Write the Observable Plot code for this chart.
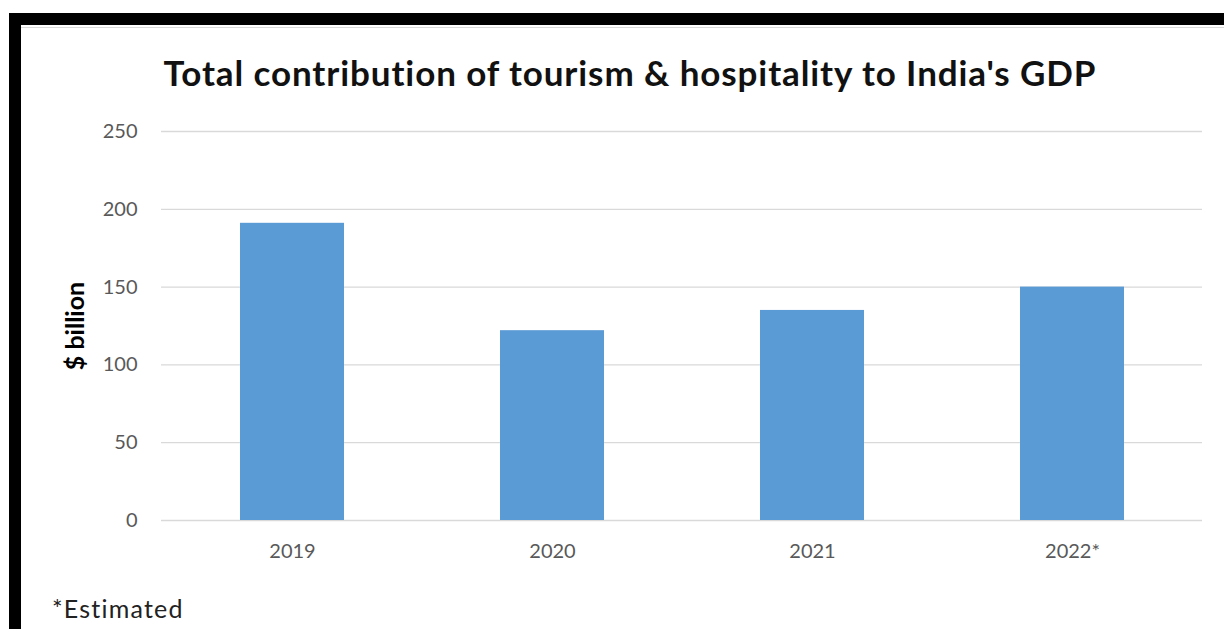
<!DOCTYPE html>
<html>
<head>
<meta charset="utf-8">
<script src="https://cdn.jsdelivr.net/npm/d3@7"></script>
<script src="https://cdn.jsdelivr.net/npm/@observablehq/plot@0.6"></script>
<style>
  html, body { margin: 0; padding: 0; background: #fff; width: 1224px; height: 629px; overflow: hidden; }
  #frameTop { position: absolute; left: 9px; top: 13px; width: 1215px; height: 12px; background: #000; }
  #frameLeft { position: absolute; left: 9px; top: 13px; width: 12px; height: 616px; background: #000; }
  #innerLine { position: absolute; left: 21px; top: 27px; width: 1203px; height: 1px; background: #d9d9d9; }
  #title { position: absolute; left: 0; width: 1260px; top: 51px; text-align: center; line-height: 1.2;
           font-family: Lato, sans-serif; font-weight: bold; font-size: 35px; letter-spacing: 0.9px; color: #111; white-space: nowrap; }
  #chart { position: absolute; left: 0; top: 100px; }
  #ylabel { position: absolute; left: 74px; top: 326px; transform: translate(-50%, -50%) rotate(-90deg);
            font-family: Lato, sans-serif; font-weight: bold; font-size: 25px; color: #000; white-space: nowrap; }
  #caption { position: absolute; left: 52px; top: 593px; line-height: 1.2; font-family: Lato, sans-serif; font-size: 25px; letter-spacing: 1.2px; color: #222; }
</style>
</head>
<body>
<div id="frameTop"></div>
<div id="frameLeft"></div>
<div id="innerLine"></div>
<div id="title">Total contribution of tourism &amp; hospitality to India's GDP</div>
<div id="chart"></div>
<div id="ylabel">$ billion</div>
<div id="caption">*Estimated</div>
<script>
const years = ["2019", "2020", "2021", "2022*"];
const values = [191, 122, 135, 150];
const yTicks = [0, 50, 100, 150, 200, 250];

const data = years.map((y, i) => ({year: y, value: values[i]}));

const plot = Plot.plot({
  width: 1224,
  height: 480,
  marginLeft: 161,
  marginRight: 22,
  marginTop: 31,
  marginBottom: 60,
  style: {fontFamily: "Lato, sans-serif", fontSize: "20px", color: "#595959", background: "transparent"},
  x: {domain: years, paddingInner: 0.6, paddingOuter: 0.3, label: null},
  y: {domain: [0, 250], label: null},
  marks: [
    Plot.gridY(yTicks, {stroke: "#d9d9d9", strokeOpacity: 1, strokeWidth: 1.3}),
    Plot.barY(data, {x: "year", y: "value", fill: "#5b9bd5"}),
    Plot.axisX({tickSize: 0, tickPadding: 23, fontSize: 20, fill: "#595959"}),
    Plot.axisY({ticks: yTicks, tickSize: 0, tickPadding: 24, fontSize: 20, fill: "#595959"})
  ]
});
document.getElementById("chart").appendChild(plot);
</script>
</body>
</html>
